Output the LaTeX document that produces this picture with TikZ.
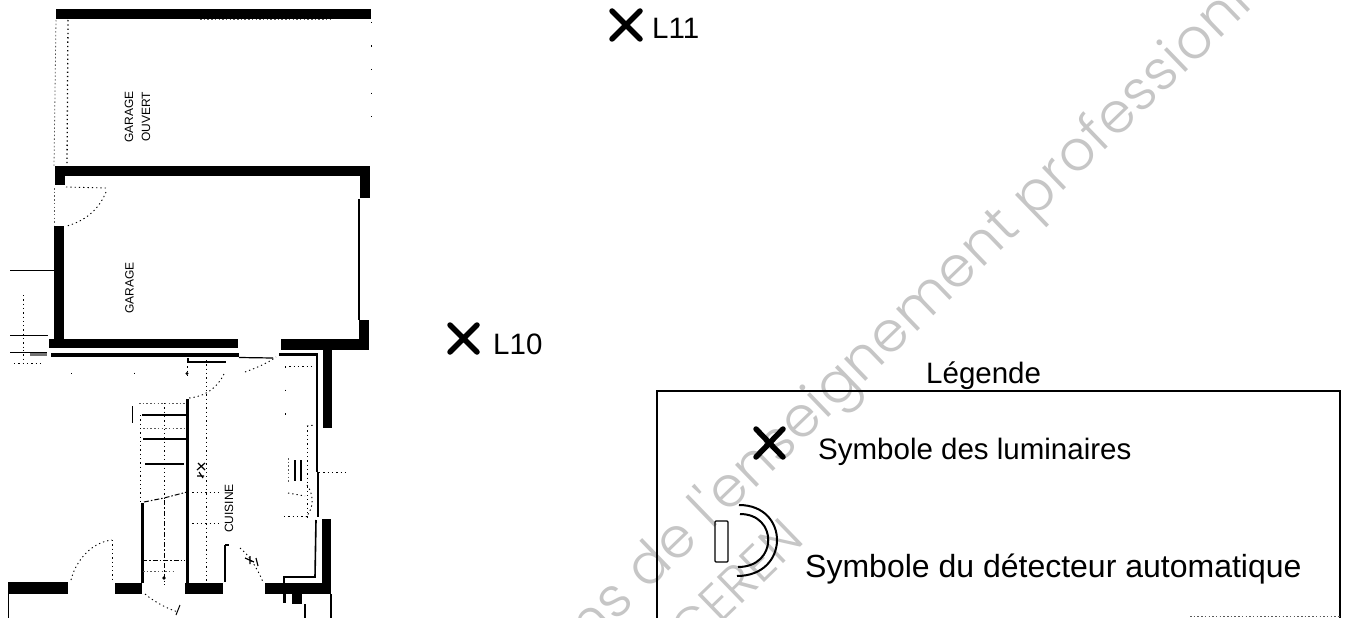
\documentclass[tikz,border=0pt]{standalone}
\usepackage{fontspec}
\setmainfont{Liberation Sans}
\newfontfamily\wmfont{Poppins Light}
\definecolor{wmgray}{HTML}{C6C6C6}
\tikzset{
  wall/.style={fill=black,draw=none},
  thinwall/.style={draw=black,line width=1.6pt},
  fine/.style={draw=black,line width=0.8pt},
  dotline/.style={draw=black,line width=0.9pt,dash pattern=on 1.3pt off 3pt},
  sparsedot/.style={draw=black,line width=1pt,dash pattern=on 1.5pt off 22pt},
  faintdot/.style={draw=black!65,line width=0.8pt,dash pattern=on 1.5pt off 2.2pt},
  dashdot/.style={draw=black,line width=1pt,dash pattern=on 5pt off 2pt on 1.5pt off 2pt},
  lamp/.style={draw=black,line width=5.5pt,line cap=round},
  legendtext/.style={font=\fontsize{29.5pt}{30pt}\selectfont,anchor=base west,inner sep=0pt},
  roomtext/.style={font=\fontsize{12pt}{12pt}\selectfont,rotate=90,inner sep=0pt},
  wmtext/.style={text=wmgray,inner sep=0pt,rotate=44}
}
\begin{document}
\begin{tikzpicture}[x=1pt,y=-1pt]
\path[use as bounding box,fill=white] (0,0) rectangle (1346,618);
\clip (0,0) rectangle (1346,618);
% watermark
\node[wmtext,anchor=base,font=\wmfont\fontsize{56pt}{56pt}\selectfont] (wm1) at (930,319.5) {\addfontfeature{LetterSpace=1}ns de l'enseignement professionn};
\node[wmtext,anchor=base east,font=\wmfont\fontsize{52pt}{52pt}\selectfont] (wm2) at (806,542) {SCEREN};
% upper garage
\fill[wall] (56,9) rectangle (371,19);
\fill[wall] (55,166) rectangle (370,176);
\fill[wall] (360,166) rectangle (370,198);
\fill[wall] (55,176) rectangle (65,185);
\draw[faintdot] (56,20) -- (54,166);
\draw[dotline,line width=1.3pt] (68,20) -- (67,166);
\draw[faintdot] (200,19.5) -- (330,19.5);
\draw[sparsedot] (371,22) -- (371,117);
% door
\draw[dotline] (66,187) -- (106,188);
\draw[faintdot] (54,188) -- (54,225);
\draw[dotline] (106,192) .. controls (100,207) and (88,220) .. (67,226);
% lower garage
\fill[wall] (54,226) rectangle (64,348);
\fill[wall] (49,339) rectangle (238,348);
\fill[wall] (281,339) rectangle (369,350);
\fill[wall] (359,320) rectangle (369,350);
\draw[thinwall] (359,199) -- (359,320);
\draw[fine] (10,270.5) -- (54,270.5);
\draw[dotline] (23,295) -- (23,348);
\draw[fine] (10,335) -- (48,335);
% double wall to the kitchen
\fill[wall] (51,353) rectangle (239,357);
\fill[wall] (279,353) rectangle (318,356);
\fill[black!55] (30,352) rectangle (47,356);
\draw[fine] (10,352) -- (47,352);
\draw[dotline] (23,350) -- (23,364);
\draw[dotline] (14,363.5) -- (40,363.5);
% kitchen right side
\fill[wall] (323,350) rectangle (332,428);
\fill[wall] (322,519) rectangle (331,594);
\draw[thinwall] (317,355) -- (317,472);
\draw[thinwall] (318,472) -- (318,517);
\draw[thinwall] (316,520) -- (315,577) -- (284,577) -- (284,583);
\draw[dotline] (319,472.5) -- (347,472.5);
% kitchen fittings
\draw[dotline] (307,426) -- (307,518);
\draw[dotline] (307,426) -- (315,425);
\draw[line width=2pt] (301,460) -- (301,481);
\draw[line width=1.6pt] (295,460) -- (295,481);
\draw[faintdot] (288,458) -- (288,482);
\draw[dotline] (288,493) -- (305,496);
\draw[dotline] (284,516) -- (306,516);
\draw[dotline] (307,485) .. controls (314,495) and (314,508) .. (306,517);
% stair walls
\draw[line width=3pt] (187.5,399) -- (187.5,583);
\draw[line width=3pt] (142,503) -- (142,583);
\draw[dotline] (140,415) -- (140,503);
\draw[line width=1.2pt] (132.5,406) -- (132.5,423);
\draw[line width=1.2pt] (142,415) -- (186,415);
\draw[line width=1.2pt] (143,439) -- (186,439);
\draw[line width=1.2pt] (145,464) -- (184,464);
\draw[dashdot] (142,560) -- (185,560);
\draw[faintdot] (143,571) -- (176,571);
\draw[faintdot] (139,403) -- (186,403);
\draw[faintdot] (143,428) -- (186,428);
\draw[dashdot] (144,502) -- (164,498) -- (187,492);
\draw[dotline] (164,403) -- (164,500);
\draw[dashdot] (164,500) -- (164,585);
\fill (164,578) circle (1.8pt);
\draw[dotline] (206,360) -- (206,585);
\draw[dotline] (188,492.5) -- (220,492.5);
\draw[dotline] (188,523) -- (220,523);
\draw[line width=1.3pt] (225,545) -- (225,582);
\draw[line width=1.3pt] (225,545) -- (229,545);
% kitchen door and entry
\draw[line width=1.2pt] (188,358) -- (188,362) -- (226,362);
\draw[line width=1.2pt] (239,357.5) -- (273,358);
\draw[dotline] (245,372) .. controls (256,368) and (268,363) .. (276,357);
\draw[dotline] (187,362) -- (187,375);
\fill (187,373.5) circle (1.7pt);
\draw[dotline] (224,374) .. controls (218,386) and (208,396) .. (189,398);
\draw[dotline] (71,373) -- (71,373.5);
\draw[dotline] (134,372.5) -- (134,373);
\draw[dotline] (285,366) -- (312,366);
\draw[sparsedot] (285,366) -- (285,425);
% small marks
\draw[line width=1.2pt] (197,470) -- (205,463) (198,463) -- (205,470) (197,476) -- (204,476) (199,472) -- (203,478);
\draw[line width=1.2pt] (245,558) -- (254,562) (250,556) -- (250,564) (256,558) -- (258,566);
% entry, lower walls
\draw[dotline] (112,540) -- (112,582);
\draw[dotline] (71,580) .. controls (76,560) and (92,542) .. (112,540);
\fill[wall] (8,582) rectangle (68,594);
\draw[fine] (8,594) -- (8,618);
\fill[wall] (115,583) rectangle (142,594);
\fill[wall] (185,583) rectangle (223,594);
\fill[wall] (265,583) rectangle (331,594);
\fill[wall] (292,594) rectangle (302,604);
\fill[wall] (283,594) rectangle (286,603);
\draw[line width=1.2pt] (305,604) -- (305,618);
\draw[line width=1.2pt] (331,594) -- (331,618);
\draw[dotline] (240,548) .. controls (250,556) and (258,570) .. (263,582);
\draw[dotline] (145,594) .. controls (152,600) and (165,608) .. (178,612);
\draw[line width=1pt] (176,615) -- (180,605);
% room labels
\node[roomtext] (garagef) at (129,117) {GARAGE};
\node[roomtext] (ouvert) at (146,117) {OUVERT};
\node[roomtext] (garage) at (129.5,288) {GARAGE};
\node[roomtext] (cuisine) at (229,508.5) {CUISINE};
% luminaires
\draw[lamp] (612,11) -- (640,39) (640,11) -- (612,39);
\node[legendtext] (l11) at (652,38) {L11};
\draw[lamp] (450,325) -- (477,352) (477,325) -- (450,352);
\node[legendtext] (l10) at (493,354) {L10};
% legend
\node[legendtext] (legende) at (926,383) {Légende};
\draw[line width=1.4pt] (657,618) -- (657,391) -- (1340,391) -- (1340,618);
\draw[faintdot] (1190,616.5) -- (1340,616.5);
\draw[lamp] (756,429) -- (783,457) (783,429) -- (756,457);
\node[legendtext] (sym1) at (818,459) {Symbole des luminaires};
\draw[line width=1.1pt,rounded corners=1pt] (715,521) rectangle (728,562);
\draw[line width=2pt] (739,505) .. controls (790,505) and (790,576) .. (737,576);
\draw[line width=2pt] (740,514) .. controls (778,514) and (778,567) .. (738,567);
\node[legendtext,font=\fontsize{32pt}{32pt}\selectfont] (sym2) at (805,577) {Symbole du détecteur automatique};
\end{tikzpicture}
\end{document}
